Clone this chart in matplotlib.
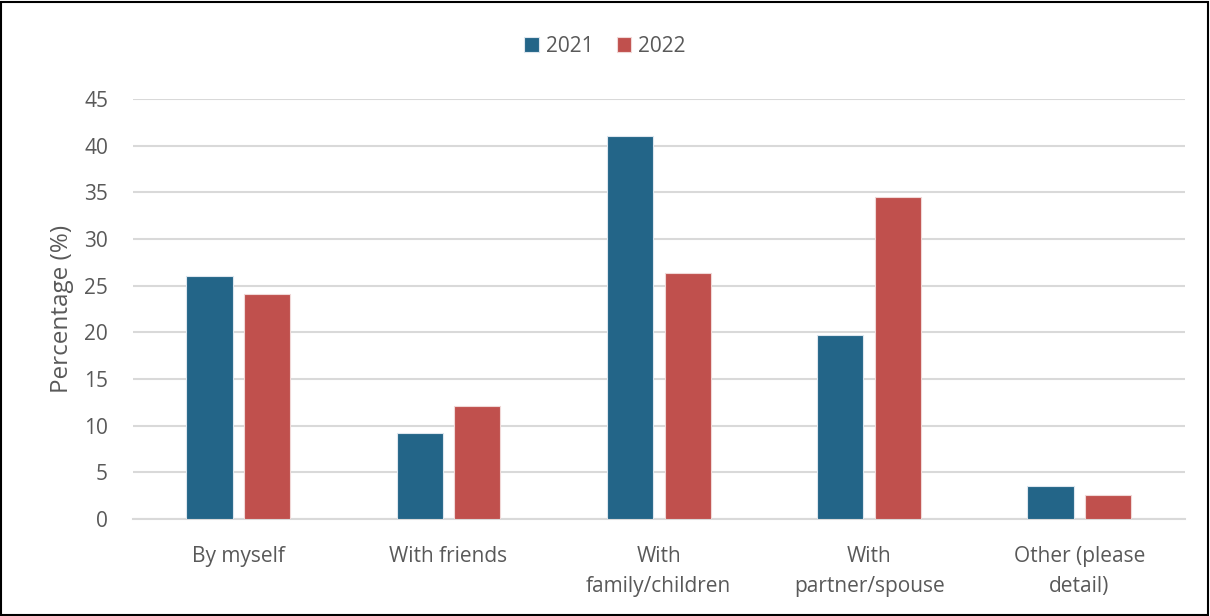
import numpy as np
import matplotlib.pyplot as plt
from matplotlib.patches import Rectangle

# data
categories = ['By myself', 'With friends', 'With\nfamily/children',
              'With\npartner/spouse', 'Other (please\ndetail)']
vals_2021 = [26.0, 9.2, 41.1, 19.7, 3.5]
vals_2022 = [24.1, 12.1, 26.4, 34.5, 2.6]
series_names = ['2021', '2022']

plt.rcParams['font.family'] = ['Open Sans', 'DejaVu Sans']
txt = '#595959'
fs = 15

fig = plt.figure(figsize=(12.1, 6.16), dpi=100)
ax = fig.add_axes([0.110, 0.1575, 0.869, 0.6815])

x = np.arange(len(categories))
w = 0.22
off = 0.137
ax.bar(x - off, vals_2021, w, color='#236588', edgecolor='#dde6ee', linewidth=0.8,
       label=series_names[0], zorder=3)
ax.bar(x + off, vals_2022, w, color='#C0504D', edgecolor='#f0d8d7', linewidth=0.8,
       label=series_names[1], zorder=3)

ax.set_xlim(-0.5, len(categories) - 0.5)
ax.set_ylim(0, 45)
ax.set_yticks(np.arange(0, 46, 5))
ax.yaxis.grid(True, color='#d9d9d9', linewidth=1.5, zorder=0)
ax.set_axisbelow(True)
for s in ['top', 'right', 'left']:
    ax.spines[s].set_visible(False)
ax.spines['bottom'].set_color('#d9d9d9')
ax.spines['bottom'].set_linewidth(1.5)

ax.set_xticks(x)
ax.set_xticklabels(categories, fontsize=fs, color=txt, linespacing=1.55)
ax.tick_params(axis='x', length=0, pad=19.5)
ax.tick_params(axis='y', length=0, labelsize=fs, labelcolor=txt, pad=18)
ax.set_ylabel('Percentage (%)', fontsize=17.5, color=txt, labelpad=7)

fig.legend(loc='center', bbox_to_anchor=(0.5, 0.925), ncol=2, frameon=False,
           fontsize=fs, labelcolor=txt, handlelength=0.7, handleheight=0.7,
           handletextpad=0.35, columnspacing=1.1)

fig.patches.append(Rectangle((0.001, 0.002), 0.997, 0.995, transform=fig.transFigure,
                             fill=False, edgecolor='black', linewidth=1.5))

fig.savefig('out.png', dpi=100)
